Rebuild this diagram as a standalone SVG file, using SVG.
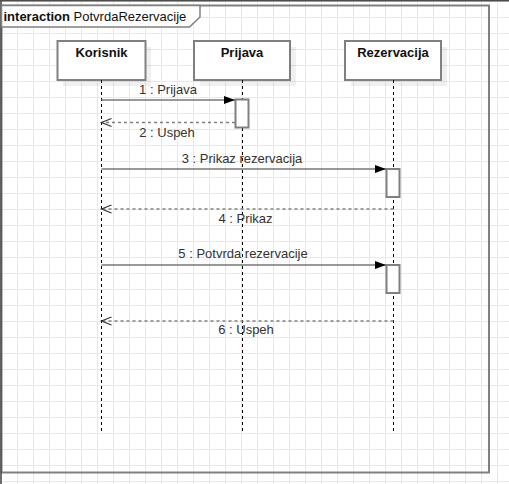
<svg xmlns="http://www.w3.org/2000/svg" width="509" height="484" viewBox="0 0 509 484">
<style>
text{font-family:"Liberation Sans",Arial,Helvetica,sans-serif;font-size:13px;fill:#1a1a1a}
.hdr{font-weight:bold;text-anchor:middle;fill:#111}
.lbl{text-anchor:middle;fill:#333}
.box{fill:#fff;stroke:#808080;stroke-width:2}
.shadow{fill:#000;fill-opacity:0.06}
.life{stroke:#000;stroke-width:1;stroke-dasharray:3 3;fill:none}
.msg{stroke:#777;stroke-width:1.6;fill:none}
.ret{stroke:#808080;stroke-width:1.5;stroke-dasharray:3 3;fill:none}
.act{fill:#fff;stroke:#808080;stroke-width:2}
</style>
<defs>
<pattern id="grid" width="16" height="16" patternUnits="userSpaceOnUse" x="1" y="1">
<path d="M0.5 0V16M0 0.5H16" stroke="#e8e8e8" stroke-width="1" fill="none"/>
</pattern>
<marker id="filled" markerUnits="userSpaceOnUse" markerWidth="12" markerHeight="10" refX="11" refY="4" orient="auto" overflow="visible">
<path d="M0,0 L11,4 L0,8 Z" fill="#000"/>
</marker>
<marker id="open" markerUnits="userSpaceOnUse" markerWidth="12" markerHeight="10" refX="10" refY="4" orient="auto" overflow="visible">
<path d="M0,0 L10,4 L0,8" fill="none" stroke="#333" stroke-width="1.2"/>
</marker>
</defs>
<rect width="509" height="484" fill="#fff"/>
<rect width="509" height="484" fill="url(#grid)"/>
<g id="frame">
<rect x="1.5" y="5.5" width="487.5" height="467" fill="none" stroke="#808080" stroke-width="2"/>
<path d="M0 0.75H509M1 0V484" stroke="#4d4d4d" stroke-width="1.6" fill="none"/>
<path d="M1.5 5.5H200V17L189.5 27H1.5Z" fill="#fff" stroke="#808080" stroke-width="1.5"/>
<text x="3.5" y="20.5" style="fill:#111"><tspan font-weight="bold">interaction</tspan> PotvrdaRezervacije</text>
</g>
<g id="korisnik">
<rect class="shadow" x="63" y="47" width="88" height="39"/>
<rect class="box" x="57.5" y="41" width="88" height="39"/>
<text class="hdr" x="101.5" y="57">Korisnik</text>
<line class="life" x1="101.5" y1="80" x2="101.5" y2="432"/>
</g>
<g id="prijava">
<rect class="shadow" x="200" y="47" width="96" height="39"/>
<rect class="box" x="194" y="41" width="96" height="39"/>
<text class="hdr" x="242" y="57">Prijava</text>
<line class="life" x1="242.5" y1="80" x2="242.5" y2="432"/>
<rect class="act" x="235.5" y="99.5" width="13" height="28"/>
</g>
<g id="rezervacija">
<rect class="shadow" x="351" y="47" width="96" height="39"/>
<rect class="box" x="345" y="41" width="96" height="39"/>
<text class="hdr" x="393" y="57">Rezervacija</text>
<line class="life" x1="393.5" y1="80" x2="393.5" y2="432"/>
<rect class="act" x="386.5" y="169" width="13" height="28"/>
<rect class="act" x="386.5" y="265" width="13" height="28"/>
</g>
<g id="connectors">
<line class="msg" x1="101.5" y1="100" x2="235" y2="100" marker-end="url(#filled)"/>
<text class="lbl" x="168" y="94">1 : Prijava</text>
<line class="ret" x1="235" y1="122.5" x2="101.5" y2="122.5" marker-end="url(#open)"/>
<text class="lbl" x="167" y="136.5">2 : Uspeh</text>
<line class="msg" x1="101.5" y1="169" x2="386" y2="169" marker-end="url(#filled)"/>
<text class="lbl" x="242" y="162.5">3 : Prikaz rezervacija</text>
<line class="ret" x1="393.5" y1="209" x2="101.5" y2="209" marker-end="url(#open)"/>
<text class="lbl" x="245.5" y="222.5">4 : Prikaz</text>
<line class="msg" x1="101.5" y1="265" x2="386" y2="265" marker-end="url(#filled)"/>
<text class="lbl" x="243" y="258">5 : Potvrda rezervacije</text>
<line class="ret" x1="393.5" y1="321" x2="101.5" y2="321" marker-end="url(#open)"/>
<text class="lbl" x="246" y="334">6 : Uspeh</text>
</g>
</svg>
